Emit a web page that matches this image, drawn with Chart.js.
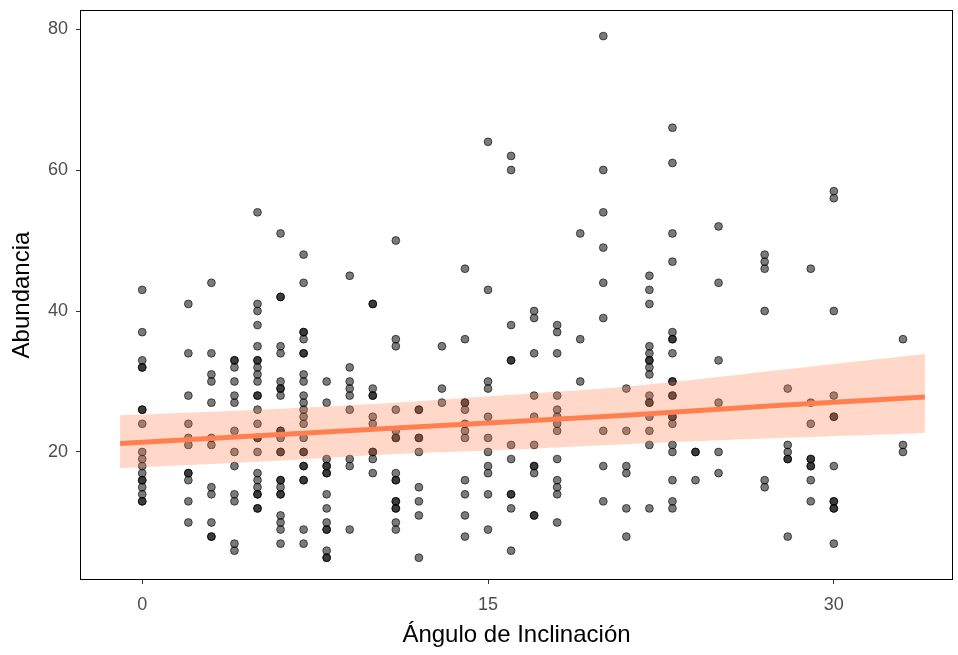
<!DOCTYPE html>
<html lang="es">
<head>
  <meta charset="UTF-8">
  <title>Abundancia vs Ángulo de Inclinación</title>
  <script src="https://cdn.jsdelivr.net/npm/chart.js@4"></script>
  <style>
    html, body { margin: 0; padding: 0; background: #fff; }
    #wrap { width: 958px; height: 655px; }
  </style>
</head>
<body>
  <div id="wrap"><canvas id="grafico" width="958" height="655"></canvas></div>

  <script>
    // valores de x de cada columna de puntos
    const angulos = [0, 2, 3, 4, 5, 6, 7, 8, 9, 10, 11, 12, 13, 14, 15, 16, 17, 18, 19, 20, 21, 22, 23, 24, 25, 27, 28, 29, 30, 33];
    const abundancias = [
      [43, 37, 33, 32, 32, 26, 26, 24, 20, 19, 18, 17, 16, 16, 15, 14, 13, 13],
      [41, 34, 28, 24, 22, 21, 17, 17, 16, 13, 10],
      [44, 34, 31, 30, 27, 22, 21, 15, 14, 10, 8, 8],
      [33, 33, 32, 30, 28, 27, 23, 20, 18, 14, 13, 7, 6],
      [54, 41, 40, 38, 35, 33, 33, 32, 31, 30, 28, 28, 26, 24, 22, 22, 20, 17, 16, 15, 14, 14, 12, 12],
      [51, 42, 42, 35, 34, 30, 29, 29, 28, 23, 23, 22, 20, 20, 16, 16, 15, 14, 14, 11, 10, 9, 7],
      [48, 44, 37, 37, 36, 34, 34, 31, 30, 28, 27, 26, 25, 24, 22, 20, 20, 18, 18, 16, 16, 9, 7],
      [30, 27, 19, 18, 18, 17, 17, 14, 12, 10, 9, 9, 6, 5, 5],
      [45, 32, 30, 29, 28, 26, 19, 18, 9],
      [41, 41, 29, 28, 28, 25, 24, 20, 20, 19, 17],
      [50, 36, 35, 26, 23, 22, 22, 17, 16, 16, 13, 13, 12, 12, 10, 9],
      [26, 26, 22, 22, 20, 15, 13, 11, 5],
      [35, 29, 27],
      [46, 36, 27, 27, 26, 24, 23, 22, 16, 14, 11, 8],
      [64, 43, 30, 29, 25, 22, 20, 18, 17, 14, 9],
      [62, 60, 38, 33, 33, 21, 19, 14, 14, 12, 6],
      [40, 39, 34, 28, 25, 21, 18, 18, 17, 11, 11],
      [38, 37, 34, 28, 26, 25, 24, 23, 19, 16, 15, 14, 10],
      [51, 36, 30],
      [79, 60, 54, 49, 44, 39, 23, 18, 13],
      [29, 23, 18, 17, 12, 8],
      [45, 43, 41, 35, 34, 33, 33, 32, 31, 28, 27, 27, 25, 23, 21, 12],
      [66, 61, 51, 47, 37, 36, 36, 34, 30, 30, 28, 28, 25, 25, 24, 21, 20, 16, 13, 12],
      [20, 20, 16],
      [52, 44, 33, 27, 20, 17],
      [48, 47, 46, 40, 16, 15],
      [29, 21, 20, 19, 19, 8],
      [46, 27, 24, 19, 19, 18, 18, 16, 13],
      [57, 56, 40, 28, 25, 25, 18, 13, 13, 12, 12, 7],
      [36, 21, 20]
    ];

    const ticksX = [0, 15, 30];
    const ticksY = [20, 40, 60, 80];

    // recta de ajuste y banda de confianza
    const ajusteX   = [-0.96, 5, 11, 15, 21, 27, 33.95];
    const ajusteY   = [21.2, 22.3, 23.4, 24.1, 25.2, 26.5, 27.8];
    const ajusteSup = [25.2, 26.0, 27.0, 27.9, 29.3, 31.4, 33.9];
    const ajusteInf = [17.7, 18.6, 19.7, 20.2, 21.1, 21.9, 22.7];

    const puntos = [];
    angulos.forEach((a, i) => abundancias[i].forEach(v => puntos.push({ x: a, y: v })));

    const fuente = 'Liberation Sans, Arial, sans-serif';

    const marco = {
      id: 'marco',
      afterDatasetsDraw(chart) {
        const { ctx, chartArea: a } = chart;
        ctx.save();
        ctx.strokeStyle = '#000';
        ctx.lineWidth = 1;
        ctx.strokeRect(a.left + 0.5, a.top + 0.5, a.right - a.left - 1, a.bottom - a.top - 1);
        ctx.restore();
      }
    };

    new Chart(document.getElementById('grafico'), {
      type: 'scatter',
      data: {
        datasets: [
          {
            data: puntos,
            pointRadius: 3.9,
            backgroundColor: 'rgba(0,0,0,0.52)',
            borderColor: 'rgba(0,0,0,0.62)',
            borderWidth: 1,
            order: 3
          },
          {
            type: 'line',
            data: ajusteX.map((x, i) => ({ x: x, y: ajusteSup[i] })),
            borderWidth: 0,
            pointRadius: 0,
            tension: 0.4,
            fill: '+1',
            backgroundColor: 'rgba(255,127,80,0.3)',
            order: 2
          },
          {
            type: 'line',
            data: ajusteX.map((x, i) => ({ x: x, y: ajusteInf[i] })),
            borderWidth: 0,
            pointRadius: 0,
            tension: 0.4,
            fill: false,
            order: 2
          },
          {
            type: 'line',
            data: ajusteX.map((x, i) => ({ x: x, y: ajusteY[i] })),
            borderColor: '#FF7F50',
            borderWidth: 5,
            pointRadius: 0,
            fill: false,
            order: 0
          }
        ]
      },
      options: {
        responsive: false,
        animation: false,
        devicePixelRatio: 1,
        layout: { padding: { left: 0, right: 3, top: 10, bottom: 0 } },
        plugins: { legend: { display: false }, tooltip: { enabled: false } },
        scales: {
          x: {
            type: 'linear',
            min: -2.70,
            max: 35.17,
            afterBuildTicks: s => { s.ticks = ticksX.map(v => ({ value: v })); },
            afterFit: s => { s.height = 75; s.paddingLeft = 0; s.paddingRight = 0; },
            grid: { display: true, drawOnChartArea: false, drawTicks: true, tickLength: 4, color: '#333' },
            border: { display: false },
            ticks: { color: '#4D4D4D', font: { family: fuente, size: 18 }, padding: 10, maxRotation: 0 },
            title: { display: true, text: 'Ángulo de Inclinación', color: '#000', font: { family: fuente, size: 24 }, padding: { top: 0, bottom: 5 } }
          },
          y: {
            type: 'linear',
            min: 1.84,
            max: 82.70,
            afterBuildTicks: s => { s.ticks = ticksY.map(v => ({ value: v })); },
            afterFit: s => { s.width = 80; s.paddingTop = 0; s.paddingBottom = 0; },
            grid: { display: true, drawOnChartArea: false, drawTicks: true, tickLength: 4, color: '#333' },
            border: { display: false },
            ticks: { color: '#4D4D4D', font: { family: fuente, size: 18 }, padding: 8 },
            title: { display: true, text: 'Abundancia', color: '#000', font: { family: fuente, size: 24 }, padding: { top: 8, bottom: 0 } }
          }
        }
      },
      plugins: [marco]
    });
  </script>
</body>
</html>
